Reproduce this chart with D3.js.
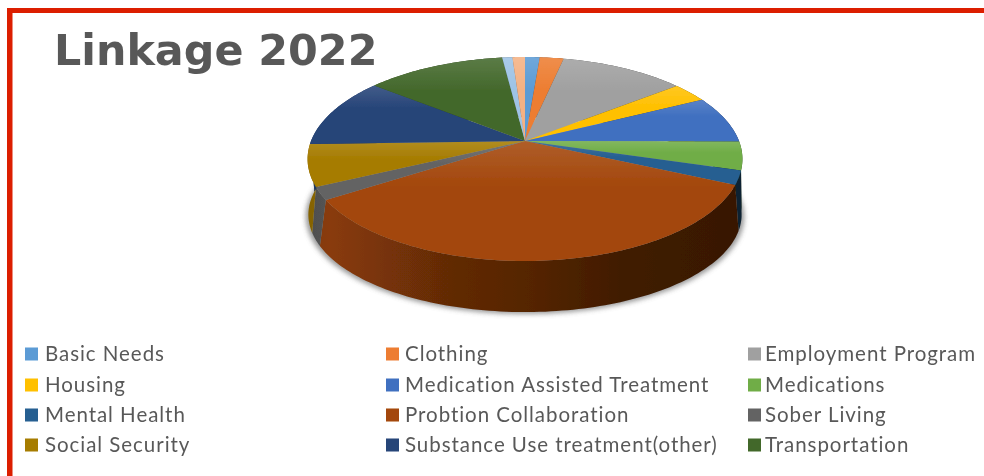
<!DOCTYPE html>
<html><head><meta charset="utf-8">
<script src="https://cdn.jsdelivr.net/npm/d3@7"></script>
<style>html,body{margin:0;padding:0;background:#fff}svg{display:block}</style>
</head><body><svg id="c" width="984" height="476"></svg>
<script>
const title = "Linkage 2022";
const categories = ["Basic Needs","Clothing","Employment Program","Housing","Medication Assisted Treatment","Medications","Mental Health","Probtion Collaboration","Sober Living","Social Security","Substance Use treatment(other)","Transportation","(unlabelled a)","(unlabelled b)"];
const values = [1.3,2.1,11.0,3.2,7.5,4.5,2.2,34.2,2.0,6.6,11.2,12.3,0.9,1.1];
const colors = ["#5B9BD5","#ED7D31","#A0A0A0","#FFC000","#4070C0","#70AD47","#255E91","#A3460A","#636363","#A67C00","#264478","#43682B","#9DC3E6","#F4B183"];
const legendCount = 12;

const svg = d3.select("#c");
const defs = svg.append("defs");
defs.append("filter").attr("id","soft").attr("x","-5%").attr("y","-5%").attr("width","110%").attr("height","110%")
  .append("feGaussianBlur").attr("stdDeviation",0.6);
defs.append("filter").attr("id","softText").attr("x","-5%").attr("y","-20%").attr("width","110%").attr("height","140%")
  .append("feGaussianBlur").attr("stdDeviation",0.45);
defs.append("filter").attr("id","shadow").attr("x","-10%").attr("y","-20%").attr("width","120%").attr("height","140%")
  .append("feGaussianBlur").attr("stdDeviation",2.5);
const sheen = defs.append("linearGradient").attr("id","sheen").attr("x1",0).attr("x2",0).attr("y1",0).attr("y2",1);
sheen.append("stop").attr("offset","0").attr("stop-color","#fff").attr("stop-opacity",0.13);
sheen.append("stop").attr("offset","0.4").attr("stop-color","#fff").attr("stop-opacity",0);

// frame
svg.append("rect").attr("x",7).attr("y",8).attr("width",5.5).attr("height",468).attr("fill","#DC1E00");
svg.append("rect").attr("x",7).attr("y",8).attr("width",977).attr("height",5).attr("fill","#DC1E00");

svg.append("text").text(title).attr("x",54).attr("y",65)
  .attr("font-family","DejaVu Sans").attr("font-weight","bold").attr("font-size",42.8)
  .attr("fill","#595959").attr("filter","url(#softText)");

const color = d3.scaleOrdinal(categories, colors);
const arcs = d3.pie().sort(null).value(d=>d)(values);

const topDisc = {y0:141,A:98.8,k:0.1765,R:214};
const botDisc = {y0:189,A:90.7,k:0.263,R:209};
const cx = 525;
const proj = (t,d)=>{const u=Math.sin(t),v=-Math.cos(t),w=1-d.k*v;return [cx+d.R*u/w,d.y0+d.A*v/w];};
const samples = (a,b)=>{const n=Math.max(2,Math.ceil((b-a)/0.02));return d3.range(n+1).map(i=>a+(b-a)*i/n);};
const line = d3.line();

const pie = svg.append("g").attr("filter","url(#soft)");
// drop shadow
pie.append("path").attr("d",line(samples(0,2*Math.PI).map(t=>{const p=proj(t,botDisc);return [p[0]+(p[0]-cx)*0.012,p[1]+2];}))+"Z")
  .attr("fill","#777").attr("opacity",0.75).attr("filter","url(#shadow)");

// walls, shaded from left to right
const shadeX = [308,330,450,525,620,742];
const shadeK = [0.8,0.84,0.6,0.53,0.40,0.34];
arcs.forEach((a,i)=>{
  const id="w"+i, base=d3.color(color(categories[i]));
  const g=defs.append("linearGradient").attr("id",id).attr("gradientUnits","userSpaceOnUse").attr("x1",308).attr("x2",742).attr("y1",0).attr("y2",0);
  shadeX.forEach((x,j)=>{
    const m=shadeK[j];
    g.append("stop").attr("offset",(x-308)/434).attr("stop-color",d3.rgb(base.r*m,base.g*m,base.b*m).formatHex());
  });
  const s=samples(a.startAngle,a.endAngle);
  const pts=s.map(t=>proj(t,topDisc)).concat(s.slice().reverse().map(t=>proj(t,botDisc)));
  pie.append("path").attr("d",line(pts)+"Z").attr("fill",`url(#${id})`);
});

// top faces
arcs.forEach((a,i)=>{
  const s=samples(a.startAngle,a.endAngle);
  const pts=[[cx,topDisc.y0]].concat(s.map(t=>proj(t,topDisc)));
  const d=line(pts)+"Z";
  pie.append("path").attr("d",d).attr("fill",color(categories[i]));
  pie.append("path").attr("d",d).attr("fill","url(#sheen)");
});

// legend
const swatchX = d3.scaleOrdinal([0,1,2],[25,386,748]);
const labelX = d3.scaleOrdinal([0,1,2],[45,405,765]);
const rowY = d3.scaleOrdinal([0,1,2,3],[354,385,415,445]);
const legend = svg.append("g").attr("filter","url(#softText)");
categories.slice(0,legendCount).forEach((c,i)=>{
  const col=i%3,row=Math.floor(i/3);
  legend.append("rect").attr("x",swatchX(col)).attr("y",rowY(row)-6.5).attr("width",13).attr("height",13).attr("fill",color(c));
  legend.append("text").text(c).attr("x",labelX(col)).attr("y",rowY(row)+6.5)
    .attr("font-family","Lato").attr("font-size",20.5).attr("letter-spacing",0.95).attr("fill","#595959");
});
</script></body></html>
